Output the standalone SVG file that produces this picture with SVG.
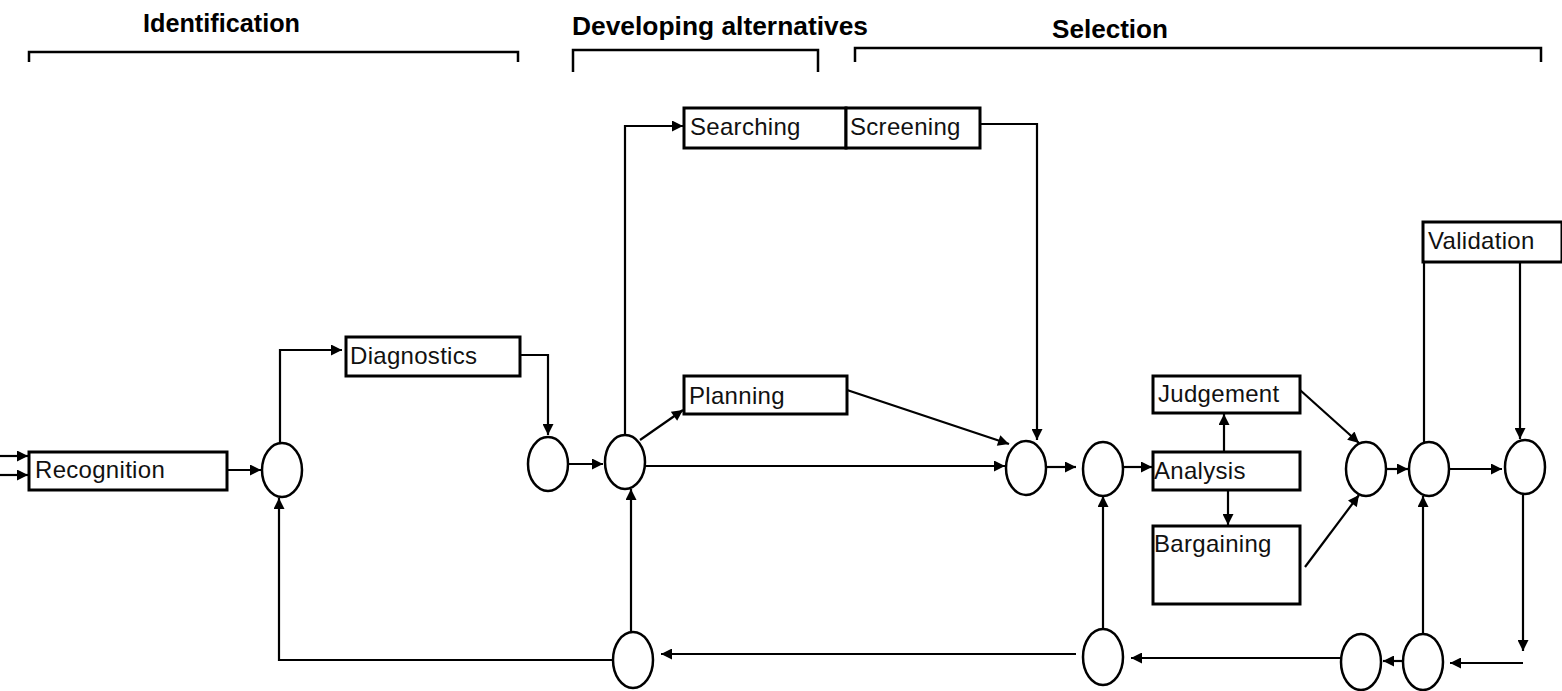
<svg xmlns="http://www.w3.org/2000/svg" width="1562" height="691" viewBox="0 0 1562 691">
<defs>
<marker id="ah" viewBox="0 0 10 10" refX="10" refY="5" markerWidth="13" markerHeight="11" markerUnits="userSpaceOnUse" orient="auto">
<path d="M0,0 L10,5 L0,10 z" fill="#000"/>
</marker>
</defs>
<style>
.box{fill:#fff;stroke:#000;stroke-width:3}
.circ{fill:#fff;stroke:#000;stroke-width:2.5}
.lbl{font-family:"Liberation Sans",Arial,sans-serif;font-size:24px;letter-spacing:0.3px;fill:#111}
.hdr{font-family:"Liberation Sans",Arial,sans-serif;font-size:25px;font-weight:bold;fill:#000}
.br{fill:none;stroke:#000;stroke-width:2.5}
.ln{fill:none;stroke:#000;stroke-width:2.2}
.ar{fill:none;stroke:#000;stroke-width:2.2;marker-end:url(#ah)}
</style>
<rect width="1562" height="691" fill="#fff"/>
<g id="headers">
<text class="hdr" x="143" y="32" textLength="157" lengthAdjust="spacingAndGlyphs">Identification</text>
<path class="br" d="M29,62 V52 H518 V62"/>
<text class="hdr" x="572" y="35" textLength="296" lengthAdjust="spacingAndGlyphs">Developing alternatives</text>
<path class="br" d="M573,72 V50 H818 V72"/>
<text class="hdr" x="1052" y="38" textLength="116" lengthAdjust="spacingAndGlyphs">Selection</text>
<path class="br" d="M855,62 V48 H1541 V62"/>
</g>
<g id="connectors">
<path class="ar" d="M0,456 H28"/>
<path class="ar" d="M0,475 H28"/>
<path class="ar" d="M227,470 H261"/>
<path class="ar" d="M280,443 V350 H342"/>
<path class="ar" d="M520,355 H548 V435"/>
<path class="ar" d="M568,464 H603"/>
<path class="ar" d="M625,435 V126 H683"/>
<path class="ar" d="M640,440 L683,410"/>
<path class="ar" d="M645,466 H1005"/>
<path class="ar" d="M847,390 L1009,444"/>
<path class="ar" d="M980,124 H1037 V440"/>
<path class="ar" d="M1046,467 H1076"/>
<path class="ar" d="M1123,467 H1152"/>
<path class="ar" d="M1224,452 V414"/>
<path class="ar" d="M1228,490 V525"/>
<path class="ar" d="M1300,390 L1359,443"/>
<path class="ar" d="M1305,567 L1359,495"/>
<path class="ar" d="M1386,469 H1408"/>
<path class="ln" d="M1424,442 V222"/>
<path class="ar" d="M1520,262 V439"/>
<path class="ar" d="M1449,469 H1502"/>
<path class="ar" d="M1523,495 V651"/>
<path class="ar" d="M1523,663 H1450"/>
<path class="ar" d="M1403,661 H1383"/>
<path class="ar" d="M1423,633 V496"/>
<path class="ar" d="M1341,658 H1131"/>
<path class="ar" d="M1103,628 V496"/>
<path class="ar" d="M1076,654 H661"/>
<path class="ar" d="M631,632 V489"/>
<path class="ar" d="M613,660 H279 V498"/>
</g>
<g id="recognition"><rect class="box" x="29" y="452" width="198" height="38"/><text class="lbl" x="35" y="478">Recognition</text></g>
<g id="diagnostics"><rect class="box" x="346" y="337" width="174" height="39"/><text class="lbl" x="350" y="364">Diagnostics</text></g>
<g id="searching"><rect class="box" x="684" y="108" width="162" height="40"/><text class="lbl" x="690" y="135">Searching</text></g>
<g id="screening"><rect class="box" x="846" y="108" width="134" height="40"/><text class="lbl" x="850" y="135">Screening</text></g>
<g id="planning"><rect class="box" x="684" y="376" width="163" height="38"/><text class="lbl" x="689" y="404">Planning</text></g>
<g id="judgement"><rect class="box" x="1153" y="376" width="147" height="37"/><text class="lbl" x="1158" y="402">Judgement</text></g>
<g id="analysis"><rect class="box" x="1153" y="452" width="147" height="38"/><text class="lbl" x="1154" y="479">Analysis</text></g>
<g id="bargaining"><rect class="box" x="1153" y="526" width="147" height="78"/><text class="lbl" x="1154" y="552">Bargaining</text></g>
<g id="validation"><rect class="box" x="1423" y="222" width="139" height="40"/><text class="lbl" x="1428" y="249">Validation</text></g>
<g id="c1"><ellipse class="circ" cx="282" cy="470" rx="20" ry="27"/></g>
<g id="c2"><ellipse class="circ" cx="548" cy="464" rx="20" ry="27"/></g>
<g id="c3"><ellipse class="circ" cx="625" cy="462" rx="20" ry="27"/></g>
<g id="c4"><ellipse class="circ" cx="1026" cy="468" rx="20" ry="27"/></g>
<g id="c5"><ellipse class="circ" cx="1103" cy="469" rx="20" ry="27"/></g>
<g id="c6"><ellipse class="circ" cx="1366" cy="469" rx="20" ry="27"/></g>
<g id="c7"><ellipse class="circ" cx="1429" cy="469" rx="20" ry="27"/></g>
<g id="c8"><ellipse class="circ" cx="1525" cy="467" rx="20" ry="27"/></g>
<g id="b1"><ellipse class="circ" cx="633" cy="660" rx="20" ry="28"/></g>
<g id="b2"><ellipse class="circ" cx="1103" cy="657" rx="20" ry="28"/></g>
<g id="b3"><ellipse class="circ" cx="1361" cy="662" rx="20" ry="28"/></g>
<g id="b4"><ellipse class="circ" cx="1423" cy="662" rx="20" ry="28"/></g>
</svg>
